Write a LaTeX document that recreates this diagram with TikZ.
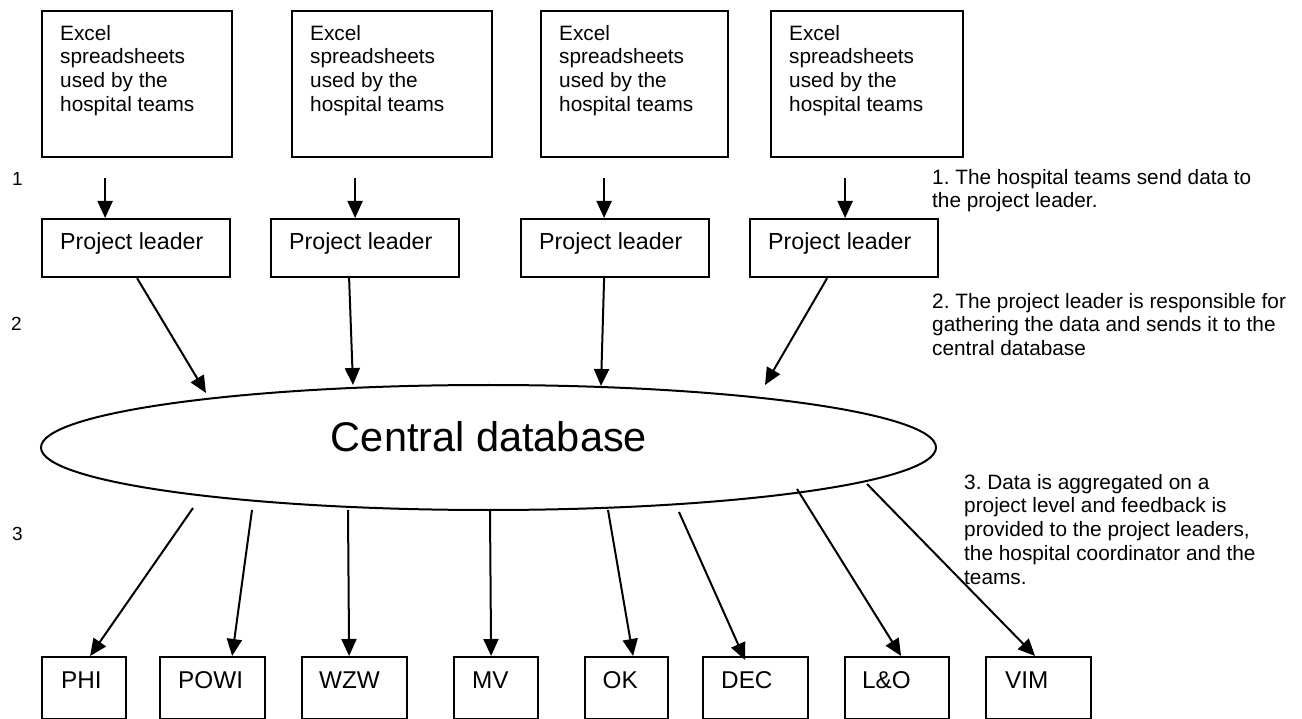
\documentclass[tikz,border=0pt]{standalone}
\usepackage{fontspec}
\setmainfont{Liberation Sans}
\usetikzlibrary{arrows.meta,shapes.geometric}
\frenchspacing
\begin{document}
\begin{tikzpicture}[x=1pt,y=-1pt,
  box/.style={draw, line width=2.2pt, inner sep=0pt, anchor=north west},
  arr/.style={line width=2pt, -{Triangle[length=17pt,width=15pt]}},
  small/.style={font=\fontsize{20.8}{23.7}\selectfont, inner sep=0pt, align=left, anchor=north west},
  pltext/.style={font=\fontsize{23.2}{27}\selectfont, inner sep=0pt, anchor=base west},
  lbl/.style={font=\fontsize{24.3}{28}\selectfont, inner sep=0pt, anchor=base west},
  num/.style={font=\fontsize{19}{22}\selectfont, inner sep=0pt, anchor=base west}
]
\useasboundingbox[fill=white] (0,0) rectangle (1302,719);

% Excel boxes
\node[box, minimum width=190pt, minimum height=146pt] (e1) at (41,10) {};
\node[box, minimum width=200pt, minimum height=146pt] (e2) at (291,10) {};
\node[box, minimum width=187pt, minimum height=146pt] (e3) at (540,10) {};
\node[box, minimum width=192pt, minimum height=146pt] (e4) at (770,10) {};
\node[small] (e1t) at (60,25) {Excel\\spreadsheets\\used by the\\hospital teams};
\node[small] (e2t) at (310,25) {Excel\\spreadsheets\\used by the\\hospital teams};
\node[small] (e3t) at (559,25) {Excel\\spreadsheets\\used by the\\hospital teams};
\node[small] (e4t) at (789,25) {Excel\\spreadsheets\\used by the\\hospital teams};

% Project leader boxes
\node[box, minimum width=188pt, minimum height=58pt] (p1) at (41,218) {};
\node[box, minimum width=188pt, minimum height=58pt] (p2) at (270,218) {};
\node[box, minimum width=188pt, minimum height=58pt] (p3) at (520,218) {};
\node[box, minimum width=188pt, minimum height=58pt] (p4) at (749,218) {};
\node[pltext] (p1t) at (60,250) {Project leader};
\node[pltext] (p2t) at (289,250) {Project leader};
\node[pltext] (p3t) at (539,250) {Project leader};
\node[pltext] (p4t) at (768,250) {Project leader};

% arrows excel -> project leader
\draw[arr] ([xshift=-32pt,yshift=-20pt]e1.south) -- ([xshift=-31pt]p1.north);
\draw[arr] ([xshift=-37pt,yshift=-20pt]e2.south) -- ([xshift=-10pt]p2.north);
\draw[arr] ([xshift=-30.5pt,yshift=-20pt]e3.south) -- ([xshift=-11pt]p3.north);
\draw[arr] ([xshift=-22pt,yshift=-20pt]e4.south) -- ([xshift=1pt]p4.north);

% central database
\node[draw, ellipse, line width=2pt, inner sep=0pt, minimum width=895pt, minimum height=125pt] (db) at (488.5,447.5) {};
\node[font=\fontsize{41.5}{48}\selectfont, inner sep=0pt, anchor=base] (dbt) at (489,451) {Central database};

% arrow ends near the ellipse
\coordinate (t1) at (206,393);
\coordinate (t2) at (353,385);
\coordinate (t3) at (601,386);
\coordinate (t4) at (765,385);
\draw[arr] ([xshift=1pt]p1.south) -- (t1);
\draw[arr] ([xshift=-16pt]p2.south) -- (t2);
\draw[arr] ([xshift=-11pt]p3.south) -- (t3);
\draw[arr] ([xshift=-17pt]p4.south) -- (t4);

% bottom boxes
\node[box, minimum width=84pt, minimum height=62pt] (phi) at (41,656) {};
\node[box, minimum width=105pt, minimum height=62pt] (powi) at (159,656) {};
\node[box, minimum width=105pt, minimum height=62pt] (wzw) at (301,656) {};
\node[box, minimum width=84pt, minimum height=62pt] (mv) at (453,656) {};
\node[box, minimum width=83pt, minimum height=62pt] (ok) at (584,656) {};
\node[box, minimum width=105pt, minimum height=62pt] (dec) at (702,656) {};
\node[box, minimum width=104pt, minimum height=62pt] (lo) at (844,656) {};
\node[box, minimum width=105pt, minimum height=62pt] (vim) at (985,656) {};
\node[lbl] (phit) at (61,688) {PHI};
\node[lbl] (powit) at (178,688) {POWI};
\node[lbl] (wzwt) at (319,688) {WZW};
\node[lbl] (mvt) at (472,688) {MV};
\node[lbl] (okt) at (602.5,688) {OK};
\node[lbl] (dect) at (721,688) {DEC};
\node[lbl] (lot) at (862,688) {L\&O};
\node[lbl] (vimt) at (1005,688) {VIM};

% arrows from database
\coordinate (s1) at (193,508);
\coordinate (s2) at (252,510);
\coordinate (s3) at (348,510);
\coordinate (s4) at (490,510);
\coordinate (s5) at (608,510);
\coordinate (s6) at (679,512);
\coordinate (s7) at (797,489);
\coordinate (s8) at (867,484);
\draw[arr] (s1) -- ([xshift=6pt]phi.north);
\draw[arr] (s2) -- ([xshift=19.5pt]powi.north);
\draw[arr] (s3) -- ([xshift=-5.5pt]wzw.north);
\draw[arr] (s4) -- ([xshift=-5pt]mv.north);
\draw[arr] (s5) -- ([xshift=6.5pt]ok.north);
\draw[arr] (s6) -- ([xshift=-10.5pt,yshift=-4pt]dec.north);
\draw[arr] (s7) -- ([xshift=4pt]lo.north);
\draw[arr] (s8) -- ([xshift=-3.5pt]vim.north);

% step numbers
\node[num] (n1) at (12,186) {1};
\node[num] (n2) at (11,331) {2};
\node[num] (n3) at (12,540) {3};

% explanations
\node[small] (x1) at (932,169) {1. The hospital teams send data to\\the project leader.};
\node[small] (x2) at (932,293) {2. The project leader is responsible for\\gathering the data and sends it to the\\central database};
\node[small] (x3) at (964,474) {3. Data is aggregated on a\\project level and feedback is\\provided to the project leaders,\\the hospital coordinator and the\\teams.};
\end{tikzpicture}
\end{document}
